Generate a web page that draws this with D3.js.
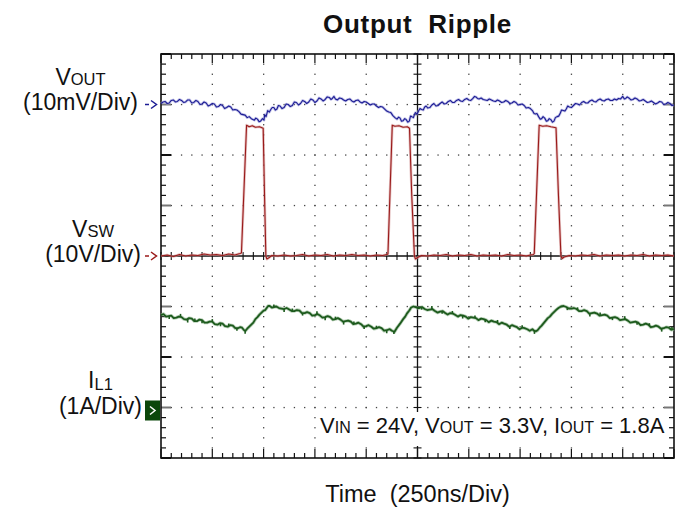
<!DOCTYPE html>
<html>
<head>
<meta charset="utf-8">
<script src="https://cdn.jsdelivr.net/npm/d3@7/dist/d3.min.js"></script>
<style>
  body { margin: 0; background: #fff; }
  text { font-family: "Liberation Sans", Arial, sans-serif; fill: #111; }
</style>
</head>
<body>
<svg id="chart" width="687" height="510"></svg>
<script>
// scope settings
var timePerDiv = 250;      // ns
var divsX = 10, divsY = 8;

// V_OUT ripple, [time ns, mV] (AC coupled, 10mV/div)
var voutData = [
  [0,0.2],[10,0.5],[20,0.6],[30,0.2],[40,0.3],[50,0.8],[60,0.9],[70,0.5],[80,0.6],[90,1.0],[100,0.8],[110,0.4],[120,0.5],
  [130,0.9],[140,0.9],[150,0.3],[160,0.4],[170,0.8],[180,0.6],[190,0.0],[200,0.1],[210,0.5],[220,0.3],[230,-0.3],[240,-0.1],
  [250,0.2],[260,0.1],[270,-0.5],[280,-0.4],[290,0.0],[300,-0.2],[310,-0.8],[320,-0.6],[330,-0.3],[340,-0.5],[350,-1.1],[360,-1.0],
  [370,-1.1],[380,-1.4],[390,-1.9],[400,-2.0],[410,-2.1],[420,-2.6],[430,-2.4],[440,-2.8],[455,-3.1],[462,-2.7],[470,-2.9],
  [478,-3.4],[485,-3.3],[495,-2.8],[502,-3.1],[505,-2.0],[512,-2.4],[520,-1.2],[528,-1.5],
  [535,-1.0],[542,-0.6],[550,-0.6],[557,-1.1],[565,-0.9],[572,-0.2],[580,-0.3],[590,-0.8],[600,-0.6],[610,0.1],[620,0.0],
  [630,-0.4],[640,-0.2],[650,0.5],[660,0.4],[670,-0.1],[680,0.2],[690,0.8],[700,0.6],[710,0.2],
  [720,0.5],[730,1.1],[740,0.9],[750,0.4],[760,0.7],[770,1.3],[780,1.1],[790,0.7],[800,1.0],[810,1.5],[820,1.4],[828,1.0],[835,1.2],
  [843,1.6],[850,1.1],[860,0.9],[870,1.3],[880,1.2],[890,0.9],[900,0.7],
  [910,1.0],[920,1.1],[930,0.7],[940,0.5],[950,0.8],[960,0.9],[970,0.5],[980,0.3],[990,0.6],[1000,0.5],[1010,0.2],[1020,-0.1],
  [1030,0.1],[1040,0.1],[1050,-0.3],[1060,-0.6],[1070,-0.4],[1080,-0.5],[1090,-0.9],
  [1100,-1.3],[1110,-1.5],[1120,-1.6],[1130,-2.2],[1140,-2.6],[1150,-2.9],[1158,-2.5],[1165,-2.7],[1172,-3.3],[1180,-3.2],
  [1188,-2.8],[1195,-3.0],[1203,-3.5],[1210,-3.3],[1216,-2.3],[1222,-2.4],[1230,-2.6],[1235,-2.0],[1240,-1.6],
  [1248,-1.9],[1255,-1.3],[1262,-0.8],[1270,-1.0],[1278,-1.1],[1285,-0.5],[1292,-0.3],[1300,-0.7],[1310,-0.6],[1320,-0.1],
  [1330,0.2],[1340,-0.3],[1350,-0.2],[1360,0.2],[1370,0.5],[1380,0.1],[1390,0.2],[1400,0.6],[1410,0.8],[1420,0.4],
  [1430,0.4],[1440,0.8],[1450,1.0],[1460,0.7],[1470,0.6],[1480,1.0],[1490,1.2],[1500,0.9],[1510,0.8],[1520,1.2],[1528,1.6],
  [1535,1.5],[1542,1.2],[1550,1.1],[1560,1.3],[1570,1.0],[1580,0.9],[1590,0.8],[1600,1.1],[1610,0.9],[1620,0.7],
  [1630,0.6],[1640,0.9],[1650,0.7],[1660,0.4],[1670,0.5],[1680,0.8],[1690,0.6],[1700,0.2],[1710,0.3],[1720,0.6],[1730,0.4],
  [1740,-0.1],[1750,0.0],[1760,0.1],[1770,-0.2],[1780,-0.7],[1790,-0.6],[1800,-0.8],[1810,-1.2],
  [1818,-1.8],[1825,-1.9],[1832,-1.8],[1840,-2.4],[1848,-2.9],[1855,-2.8],[1862,-2.4],[1870,-2.7],[1878,-3.3],[1885,-3.2],
  [1892,-2.8],[1900,-3.0],[1908,-3.5],[1915,-3.3],[1922,-2.6],[1930,-2.4],[1938,-2.3],[1945,-1.8],[1952,-1.1],[1960,-1.2],
  [1968,-1.3],[1975,-0.9],[1982,-0.3],[1990,-0.5],[2000,-0.6],[2010,-0.2],[2020,0.2],[2030,0.1],[2040,-0.1],[2050,0.4],
  [2060,0.6],[2070,0.3],[2080,0.3],[2090,0.7],[2100,0.9],[2110,0.6],[2120,0.5],[2130,0.9],[2140,1.1],[2150,0.8],
  [2160,0.7],[2170,1.0],[2180,1.1],[2190,0.8],[2200,0.8],[2210,1.1],[2220,0.9],[2230,1.2],[2240,1.1],[2250,1.6],[2258,1.1],
  [2265,1.2],[2272,1.5],[2280,1.3],[2290,0.9],[2300,1.0],[2310,1.3],[2320,1.1],[2330,0.7],[2340,0.8],[2350,1.0],
  [2360,0.7],[2370,0.4],[2380,0.5],[2390,0.7],[2400,0.4],[2410,0.1],[2420,0.3],[2430,0.6],[2440,0.5],[2450,0.0],
  [2460,0.1],[2470,0.4],[2480,0.2],[2490,-0.2],[2500,-0.1]
];

// switch node, [time ns, V] (10V/div)
var vswData = [
  [0,0],[30,0.2],[60,-0.1],[90,0.3],[120,0],[150,0.2],[180,0.1],[210,0.4],[240,0.2],[270,0.3],
  [300,0.1],[330,0.4],[360,0.2],[385,0.5],[392,0.6],[417,25.9],[430,25.6],[445,25.8],[460,25.5],[480,25.6],
  [498,25.3],[504,13],[511,0],[516,-0.6],[524,-0.4],[540,0.1],[570,0],[600,0.2],[630,0],[660,0.1],
  [690,0.3],[720,0],[750,0.2],[780,0.1],[810,0.3],[840,0],[870,0.2],[900,0.1],[930,0.3],[960,0.1],
  [990,0.2],[1020,0],[1050,0.2],[1080,0.1],[1100,0.3],[1106,0.4],[1127,25.9],[1140,25.7],[1160,25.8],[1180,25.5],
  [1200,25.6],[1211,25.3],[1222,12],[1235,0],[1240,-0.6],[1250,-0.3],[1270,0.1],[1300,0],[1330,0.2],[1360,0.1],
  [1390,0.3],[1420,0],[1450,0.2],[1480,0.1],[1510,0.3],[1540,0],[1570,0.2],[1600,0.1],[1630,0.2],[1660,0],
  [1690,0.3],[1720,0.1],[1750,0.2],[1780,0],[1800,0.2],[1815,0.3],[1819,0.5],[1843,25.9],[1860,25.7],[1880,25.8],
  [1900,25.6],[1925,25.4],[1937,12],[1949,0],[1955,-0.5],[1965,-0.2],[1990,0.1],[2020,0],[2050,0.2],[2080,0.1],
  [2110,0.3],[2140,0],[2170,0.2],[2200,0.1],[2230,0.2],[2260,0],[2290,0.2],[2320,0.1],[2350,0.3],[2380,0],
  [2410,0.2],[2440,0.1],[2470,0.2],[2500,0]
];

// inductor current, [time ns, A] (1A/div)
var ilData = [
  [0,1.83],[12,1.85],[25,1.80],[37,1.81],[50,1.82],[62,1.77],[75,1.78],[87,1.80],[100,1.79],[112,1.75],[125,1.74],[137,1.77],
  [150,1.76],[162,1.71],[175,1.71],[187,1.74],[200,1.73],[212,1.68],[225,1.68],[237,1.70],
  [250,1.70],[262,1.65],[275,1.64],[287,1.67],[300,1.66],[312,1.61],[325,1.60],[337,1.63],[350,1.62],[362,1.57],[375,1.57],
  [385,1.59],[395,1.58],[405,1.53],[412,1.52],[420,1.56],[430,1.60],[440,1.64],[450,1.68],
  [460,1.75],[470,1.79],[480,1.84],[490,1.88],[500,1.92],[508,1.93],[515,1.97],[522,2.01],[530,2.01],[540,1.98],[550,1.99],[562,2.00],
  [575,1.97],[587,1.96],[600,1.95],[612,1.97],[625,1.94],[637,1.91],[650,1.91],[662,1.93],
  [675,1.92],[687,1.87],[700,1.87],[712,1.89],[725,1.87],[737,1.82],[750,1.83],[762,1.85],[775,1.82],[787,1.78],[800,1.79],
  [812,1.81],[825,1.79],[837,1.74],[850,1.75],[862,1.77],[875,1.74],[887,1.70],[900,1.71],
  [912,1.72],[925,1.70],[937,1.65],[950,1.66],[962,1.68],[975,1.65],[987,1.60],[1000,1.61],[1012,1.63],[1025,1.60],[1037,1.56],
  [1050,1.57],[1062,1.59],[1075,1.57],[1087,1.52],[1100,1.53],[1115,1.55],[1125,1.52],[1138,1.50],
  [1150,1.58],[1165,1.66],[1180,1.75],[1190,1.80],[1200,1.87],[1210,1.92],[1219,1.98],[1230,2.00],[1240,1.99],[1250,1.97],
  [1260,1.97],[1272,1.99],[1285,1.95],[1297,1.93],[1310,1.94],[1322,1.95],[1335,1.91],
  [1347,1.88],[1360,1.90],[1372,1.91],[1385,1.87],[1397,1.84],[1410,1.87],[1422,1.86],[1435,1.83],[1447,1.80],[1460,1.83],
  [1472,1.82],[1485,1.80],[1497,1.76],[1510,1.79],[1522,1.78],[1535,1.77],[1547,1.73],[1560,1.76],[1572,1.75],[1585,1.73],
  [1597,1.69],[1610,1.72],[1622,1.70],[1635,1.69],[1647,1.65],[1660,1.68],[1672,1.66],[1685,1.64],[1697,1.60],[1710,1.63],
  [1722,1.61],[1735,1.59],[1747,1.55],[1760,1.58],[1772,1.57],[1785,1.55],[1797,1.52],[1810,1.55],[1818,1.52],[1827,1.51],
  [1835,1.53],[1845,1.58],[1855,1.62],[1865,1.67],[1875,1.72],[1885,1.77],[1895,1.80],[1905,1.85],[1915,1.89],[1925,1.93],
  [1937,1.97],[1949,2.00],[1962,2.01],[1975,1.99],[1987,1.96],[2000,1.96],[2012,1.97],[2025,1.95],[2037,1.91],[2050,1.91],
  [2062,1.93],[2075,1.91],[2087,1.86],[2100,1.87],[2112,1.88],[2125,1.86],[2137,1.82],[2150,1.83],[2162,1.84],[2175,1.82],
  [2187,1.77],[2200,1.78],[2212,1.79],[2225,1.77],[2237,1.73],[2250,1.74],[2262,1.75],[2275,1.72],[2287,1.68],[2300,1.69],
  [2312,1.70],[2325,1.68],[2337,1.63],[2350,1.64],[2362,1.66],[2375,1.64],[2387,1.59],[2400,1.60],[2412,1.62],[2425,1.60],
  [2437,1.56],[2450,1.57],[2462,1.59],[2475,1.58],[2487,1.54],[2500,1.55]
];

// short spikes riding on I_L1, [time ns, A from trace]
var ilSpikes = [
  [40,-0.06],[95,0.06],[130,-0.07],[165,0.05],[200,-0.06],[250,0.05],[290,-0.06],[330,0.05],[370,-0.05],[410,-0.06],
  [550,0.05],[600,-0.06],[640,0.05],[690,-0.05],[760,0.06],[800,-0.06],[850,0.05],[890,-0.06],[940,0.05],[990,-0.05],
  [1050,0.05],[1100,-0.06],[1135,-0.05],[1270,-0.05],[1320,0.06],[1370,-0.05],[1420,0.05],[1470,-0.06],[1530,0.05],
  [1580,-0.05],[1640,0.06],[1700,-0.05],[1760,0.05],[1820,-0.06],[1980,-0.05],[2030,0.05],[2090,-0.06],[2140,0.06],
  [2200,-0.05],[2260,0.06],[2320,-0.05],[2380,0.05],[2440,-0.06],[2490,0.05]
];

var chartTitle = "Output  Ripple";
var xLabel = "Time  (250ns/Div)";

var svg = d3.select("#chart");

var plot = {left: 161, right: 674, top: 54, bottom: 458};

var x = d3.scaleLinear().domain([0, timePerDiv * divsX]).range([plot.left, plot.right]);
var yDiv = d3.scaleLinear().domain([0, divsY]).range([plot.top, plot.bottom]);

// one scale per channel (offset marker position, units per div)
var yVout = d3.scaleLinear().domain([10, -70]).range([plot.top, plot.bottom]);
var yVsw  = d3.scaleLinear().domain([40, -40]).range([plot.top, plot.bottom]);
var yIl   = d3.scaleLinear().domain([7, -1]).range([plot.top, plot.bottom]);

var minorT = d3.range(0, timePerDiv * divsX + 1, timePerDiv / 5);
var minorD = d3.range(0, divsY + 0.001, 0.2);
var majorT = d3.range(1, divsX).map(function(d){ return d * timePerDiv; });
var majorD = d3.range(1, divsY);
var centerT = timePerDiv * divsX / 2, centerD = divsY / 2;

var grid = svg.append("g").attr("class", "grid");

// dotted graticule
majorT.filter(function(t){ return t != centerT; }).forEach(function(t){
  grid.selectAll(null).data(minorD.slice(1, -1)).enter().append("rect")
    .attr("x", x(t) - 0.6).attr("y", function(d){ return yDiv(d) - 0.6; })
    .attr("width", 1.3).attr("height", 1.3).attr("fill", "#444");
});
majorD.filter(function(d){ return d != centerD; }).forEach(function(dv){
  grid.selectAll(null).data(minorT.slice(1, -1)).enter().append("rect")
    .attr("x", function(t){ return x(t) - 0.6; }).attr("y", yDiv(dv) - 0.6)
    .attr("width", 1.3).attr("height", 1.3).attr("fill", "#444");
});

// centre cross with ticks
grid.append("line").attr("x1", plot.left).attr("x2", plot.right)
  .attr("y1", yDiv(centerD)).attr("y2", yDiv(centerD)).attr("stroke", "#111").attr("stroke-width", 1.3);
grid.append("line").attr("x1", x(centerT)).attr("x2", x(centerT))
  .attr("y1", plot.top).attr("y2", plot.bottom).attr("stroke", "#111").attr("stroke-width", 1.3);
grid.selectAll(".ctx").data(minorT).enter().append("line").attr("class", "ctx")
  .attr("x1", function(t){ return x(t); }).attr("x2", function(t){ return x(t); })
  .attr("y1", yDiv(centerD) - 4).attr("y2", yDiv(centerD) + 4)
  .attr("stroke", "#111").attr("stroke-width", 1.1);
grid.selectAll(".cty").data(minorD).enter().append("line").attr("class", "cty")
  .attr("y1", function(d){ return yDiv(d); }).attr("y2", function(d){ return yDiv(d); })
  .attr("x1", x(centerT) - 4).attr("x2", x(centerT) + 4)
  .attr("stroke", "#111").attr("stroke-width", 1.1);

// border ticks
function isMajorT(t){ return Math.abs(t / timePerDiv - Math.round(t / timePerDiv)) < 1e-6; }
function isMajorD(d){ return Math.abs(d - Math.round(d)) < 1e-6; }

grid.selectAll(".tt").data(minorT).enter().append("line")
  .attr("x1", function(t){ return x(t); }).attr("x2", function(t){ return x(t); })
  .attr("y1", plot.top).attr("y2", function(t){ return plot.top + (isMajorT(t) ? 9 : 5); })
  .attr("stroke", "#111").attr("stroke-width", 1.2);
grid.selectAll(".bt").data(minorT).enter().append("line")
  .attr("x1", function(t){ return x(t); }).attr("x2", function(t){ return x(t); })
  .attr("y1", plot.bottom).attr("y2", function(t){ return plot.bottom - (isMajorT(t) ? 9 : 5); })
  .attr("stroke", "#111").attr("stroke-width", 1.2);
grid.selectAll(".lt").data(minorD).enter().append("line")
  .attr("y1", function(d){ return yDiv(d); }).attr("y2", function(d){ return yDiv(d); })
  .attr("x1", plot.left).attr("x2", function(d){ return plot.left + (isMajorD(d) ? 10 : 5); })
  .attr("stroke", function(d){ return isMajorD(d) && Math.round(d) % 2 == 1 ? "#777" : "#111"; })
  .attr("stroke-width", function(d){ return isMajorD(d) ? 2 : 1.2; });
grid.selectAll(".rt").data(minorD).enter().append("line")
  .attr("y1", function(d){ return yDiv(d); }).attr("y2", function(d){ return yDiv(d); })
  .attr("x1", plot.right).attr("x2", function(d){ return plot.right - (isMajorD(d) ? 10 : 5); })
  .attr("stroke", function(d){ return isMajorD(d) && Math.round(d) % 2 == 1 ? "#777" : "#111"; })
  .attr("stroke-width", function(d){ return isMajorD(d) ? 2 : 1.2; });

// frame
grid.append("rect").attr("x", plot.left).attr("y", plot.top)
  .attr("width", plot.right - plot.left).attr("height", plot.bottom - plot.top)
  .attr("fill", "none").attr("stroke", "#111").attr("stroke-width", 1.6);

// traces
function drawTrace(data, yScale, color, halo, w) {
  var line = d3.line()
    .x(function(d){ return x(d[0]); })
    .y(function(d){ return yScale(d[1]); });
  svg.append("path").datum(data).attr("d", line)
    .attr("fill", "none").attr("stroke", halo).attr("stroke-width", w + 1.6)
    .attr("stroke-linejoin", "round").attr("opacity", 0.6);
  svg.append("path").datum(data).attr("d", line)
    .attr("fill", "none").attr("stroke", color).attr("stroke-width", w)
    .attr("stroke-linejoin", "round");
}
drawTrace(vswData, yVsw, "#9a1a1a", "#d49a9a", 1.1);
drawTrace(voutData, yVout, "#1c1c94", "#9a9ad8", 1.1);
drawTrace(ilData, yIl, "#1d5a1d", "#88b088", 1.8);

// spikes on the inductor current trace
var ilAt = d3.scaleLinear().domain(ilData.map(function(d){ return d[0]; })).range(ilData.map(function(d){ return d[1]; }));
svg.selectAll(".spike").data(ilSpikes).enter().append("line").attr("class", "spike")
  .attr("x1", function(d){ return x(d[0]); }).attr("x2", function(d){ return x(d[0]); })
  .attr("y1", function(d){ return yIl(ilAt(d[0])); })
  .attr("y2", function(d){ return yIl(ilAt(d[0]) + d[1]); })
  .attr("stroke", "#1d5a1d").attr("stroke-width", 1.6);

// channel markers
function arrowMark(yPos, color) {
  var g = svg.append("g").attr("stroke", color).attr("stroke-width", 1.5).attr("fill", "none");
  g.append("line").attr("x1", 145).attr("x2", 149).attr("y1", yPos).attr("y2", yPos);
  g.append("polyline").attr("points", "151," + (yPos - 4) + " 156.5," + yPos + " 151," + (yPos + 4));
}
arrowMark(yVout(0), "#1c1c94");
arrowMark(yVsw(0), "#9a1a1a");
svg.append("rect").attr("x", 145).attr("y", yIl(0) - 7).attr("width", 15).attr("height", 20)
  .attr("fill", "#0b470b");
svg.append("polyline")
  .attr("points", "150," + (yIl(0) - 1) + " 155," + (yIl(0) + 3) + " 150," + (yIl(0) + 7))
  .attr("stroke", "#fff").attr("stroke-width", 1.5).attr("fill", "none");

// channel labels
function channelLabel(main, sub, subDy, units, endX, yMain, yUnits) {
  var u = svg.append("text").attr("x", endX).attr("y", yUnits)
    .attr("text-anchor", "end").style("font-size", "23px").text(units);
  var cx = endX - u.node().getComputedTextLength() / 2;
  var t = svg.append("text").attr("x", cx).attr("y", yMain)
    .attr("text-anchor", "middle").style("font-size", "23px");
  t.append("tspan").text(main);
  t.append("tspan").attr("dy", subDy).style("font-size", "16.5px").text(sub);
}
channelLabel("V", "OUT", 0, "(10mV/Div)", 138, 85, 110);
channelLabel("V", "SW", 0, "(10V/Div)", 141, 237, 262);
channelLabel("I", "L1", 2, "(1A/Div)", 142, 388, 414);

// conditions box
svg.append("rect").attr("x", 318).attr("y", 412).attr("width", 350).attr("height", 34).attr("fill", "#fff");
var cond = svg.append("text").attr("x", 320).attr("y", 433).style("font-size", "22px");
[["V",0],["IN",1],[" = 24V, V",0],["OUT",1],[" = 3.3V, I",0],["OUT",1],[" = 1.8A",0]].forEach(function(p){
  cond.append("tspan").style("font-size", p[1] ? "16px" : "22px").text(p[0]);
});

// title and axis label
svg.append("text").attr("x", (plot.left + plot.right) / 2).attr("y", 33)
  .attr("text-anchor", "middle").style("font-size", "26px").style("font-weight", "bold")
  .style("letter-spacing", "0.7px").style("white-space", "pre").text(chartTitle);
svg.append("text").attr("x", (plot.left + plot.right) / 2).attr("y", 502)
  .attr("text-anchor", "middle").style("font-size", "23.5px")
  .style("white-space", "pre").text(xLabel);
</script>
</body>
</html>
